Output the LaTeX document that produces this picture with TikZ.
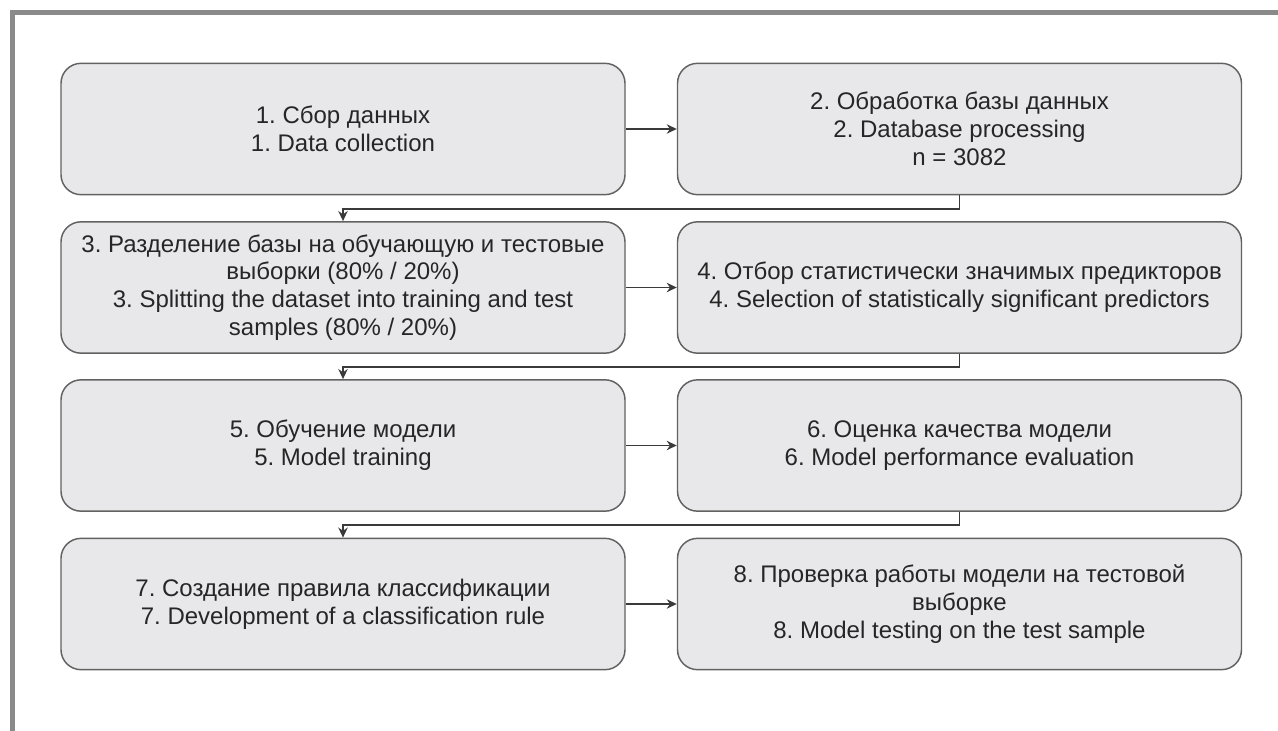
\documentclass[tikz,border=0pt]{standalone}
\usepackage{fontspec}
\setmainfont{Liberation Sans}
\usetikzlibrary{arrows.meta}
\definecolor{boxfill}{HTML}{E8E8EA}
\definecolor{boxline}{HTML}{626262}
\definecolor{frame}{HTML}{8A8A8A}
\definecolor{conn}{HTML}{3A3A3A}
\frenchspacing
\begin{document}
\begin{tikzpicture}[x=0.75pt,y=-0.75pt,
  box/.style={draw=boxline, fill=boxfill, line width=1.1pt, rounded corners=15pt,
    minimum width=423pt, minimum height=98.5pt, inner sep=0pt, align=center,
    font=\fontsize{18pt}{20.8pt}\selectfont, text=black!85},
  link/.style={draw=conn, line width=1.4pt, -{Stealth[length=7.5pt,width=7pt]}}]
\useasboundingbox (0,0) rectangle (1278,731);
\fill[white] (0,0) rectangle (1278,731);
\draw[frame, line width=3.8pt] (12.5,731) -- (12.5,12.5) -- (1278,12.5);

\node[box] (b1) at (343,129) {1. Сбор данных\\1. Data collection};
\node[box] (b2) at (959.5,129) {2. Обработка базы данных\\2. Database processing\\n = 3082};
\node[box] (b3) at (343,287.5) {3. Разделение базы на обучающую и тестовые\\выборки (80\% / 20\%)\\3. Splitting the dataset into training and test\\samples (80\% / 20\%)};
\node[box] (b4) at (959.5,287.5) {4. Отбор статистически значимых предикторов\\4. Selection of statistically significant predictors};
\node[box] (b5) at (343,445.5) {5. Обучение модели\\5. Model training};
\node[box] (b6) at (959.5,445.5) {6. Оценка качества модели\\6. Model performance evaluation};
\node[box] (b7) at (343,604) {7. Создание правила классификации\\7. Development of a classification rule};
\node[box] (b8) at (959.5,604) {8. Проверка работы модели на тестовой\\выборке\\8. Model testing on the test sample};

\draw[link] (b1.east) -- (b2.west);
\draw[link] (b3.east) -- (b4.west);
\draw[link] (b5.east) -- (b6.west);
\draw[link] (b7.east) -- (b8.west);
\draw[link] (b2.south) -- ++(0,13.5) -| (b3.north);
\draw[link] (b4.south) -- ++(0,13.5) -| (b5.north);
\draw[link] (b6.south) -- ++(0,13.5) -| (b7.north);
\end{tikzpicture}
\end{document}
